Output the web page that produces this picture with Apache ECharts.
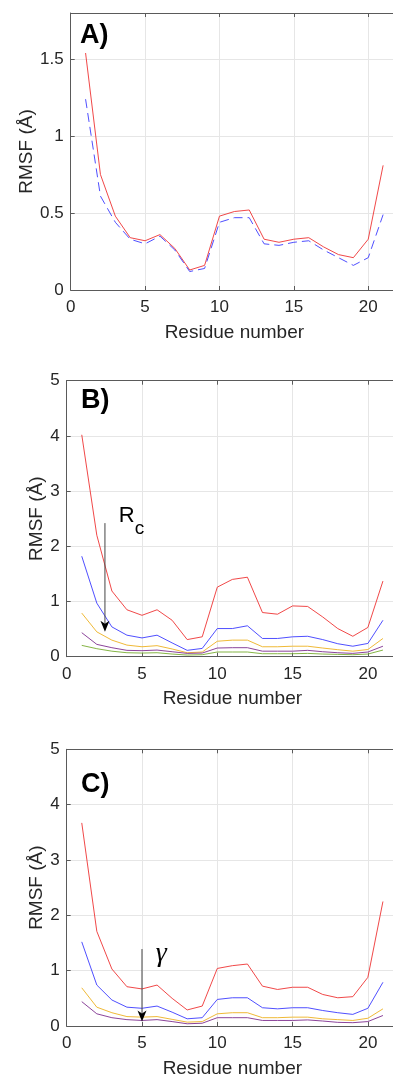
<!DOCTYPE html>
<html>
<head>
<meta charset="utf-8">
<script src="https://cdn.jsdelivr.net/npm/echarts@6/dist/echarts.min.js"></script>
<style>
  html, body { margin: 0; padding: 0; background: #fff; }
  #chart { width: 393px; height: 1077px; }
</style>
</head>
<body>
<div id="chart"></div>
<script>
// Residue index shared by all three panels
const residues = [1, 2, 3, 4, 5, 6, 7, 8, 9, 10, 11, 12, 13, 14, 15, 16, 17, 18, 19, 20, 21];

// Panel A: two RMSF profiles (solid red, dashed blue)
const rmsfA_red  = [1.54, 0.75, 0.48, 0.34, 0.32, 0.36, 0.27, 0.13, 0.16, 0.48, 0.51, 0.52, 0.33, 0.31, 0.33, 0.34, 0.28, 0.23, 0.21, 0.33, 0.81];
const rmsfA_blue = [1.24, 0.61, 0.44, 0.33, 0.30, 0.35, 0.26, 0.12, 0.14, 0.44, 0.47, 0.47, 0.30, 0.29, 0.31, 0.32, 0.26, 0.21, 0.16, 0.21, 0.49];

// Panel B: RMSF for decreasing R_c
const rmsfB_red    = [4.02, 2.20, 1.19, 0.85, 0.75, 0.85, 0.66, 0.31, 0.36, 1.26, 1.40, 1.44, 0.80, 0.77, 0.92, 0.91, 0.72, 0.51, 0.37, 0.53, 1.37];
const rmsfB_blue   = [1.82, 0.97, 0.54, 0.39, 0.34, 0.39, 0.25, 0.115, 0.15, 0.51, 0.51, 0.56, 0.33, 0.33, 0.36, 0.37, 0.31, 0.235, 0.19, 0.24, 0.66];
const rmsfB_yellow = [0.79, 0.45, 0.30, 0.21, 0.18, 0.20, 0.14, 0.072, 0.085, 0.28, 0.30, 0.30, 0.18, 0.18, 0.19, 0.19, 0.157, 0.127, 0.10, 0.13, 0.33];
const rmsfB_purple = [0.435, 0.223, 0.163, 0.115, 0.109, 0.12, 0.09, 0.06, 0.066, 0.157, 0.163, 0.163, 0.10, 0.10, 0.10, 0.115, 0.09, 0.072, 0.06, 0.085, 0.19];
const rmsfB_green  = [0.205, 0.145, 0.10, 0.072, 0.066, 0.072, 0.048, 0.03, 0.036, 0.085, 0.085, 0.085, 0.054, 0.054, 0.054, 0.06, 0.048, 0.042, 0.036, 0.048, 0.12];

// Panel C: RMSF for decreasing gamma
const rmsfC_red    = [3.67, 1.71, 1.03, 0.71, 0.67, 0.74, 0.50, 0.29, 0.36, 1.04, 1.09, 1.12, 0.72, 0.66, 0.70, 0.70, 0.57, 0.51, 0.53, 0.88, 2.25];
const rmsfC_blue   = [1.52, 0.74, 0.47, 0.34, 0.32, 0.36, 0.25, 0.13, 0.15, 0.48, 0.51, 0.51, 0.33, 0.31, 0.33, 0.33, 0.28, 0.24, 0.21, 0.32, 0.79];
const rmsfC_yellow = [0.69, 0.34, 0.24, 0.17, 0.16, 0.17, 0.12, 0.07, 0.08, 0.22, 0.24, 0.24, 0.15, 0.15, 0.16, 0.16, 0.13, 0.115, 0.10, 0.14, 0.31];
const rmsfC_purple = [0.44, 0.22, 0.15, 0.115, 0.10, 0.115, 0.08, 0.04, 0.05, 0.15, 0.15, 0.15, 0.10, 0.10, 0.10, 0.11, 0.09, 0.066, 0.06, 0.08, 0.19];

// Axis ranges and tick spacing
const xRange = [0, 22];
const xStep = 5;
const yRangeA = [0, 1.8];
const yStepA = 0.5;
const yRangeBC = [0, 5];
const yStepBC = 1;

// Arrow annotations: [x, yStart, yTip] in data units
const arrowB = [2.54, 2.42, 0.45];
const arrowC = [5.0, 1.39, 0.08];
// Annotation text anchors [x, y] in data units
const labelRc = [3.45, 2.55];
const labelGamma = [6.28, 1.30];

const FONT = '"Liberation Sans", Arial, Helvetica, sans-serif';
const AXIS_COLOR = '#5a5a5a';
const TEXT_COLOR = '#262626';
const GRID_COLOR = '#e6e6e6';

const COLORS = {
  red: '#ee3333',
  blue: '#3b3bff',
  yellow: '#EDB120',
  purple: '#7E2F8E',
  green: '#77AC30'
};

function pairs(ys) {
  return residues.map((x, i) => [x, ys[i]]);
}

function lineSeries(grid, ys, color, dashed) {
  return {
    type: 'line',
    xAxisIndex: grid * 2,
    yAxisIndex: grid,
    data: pairs(ys),
    symbol: 'none',
    silent: true,
    animation: false,
    lineStyle: { color: color, width: 0.9, type: dashed ? [9, 5] : 'solid' },
    z: 3
  };
}

const grids = [
  { left: 70.7, top: 13, right: -5, height: 277, outerBoundsMode: 'none', containLabel: false },
  { left: 66.7, top: 380.7, right: -5, height: 276, outerBoundsMode: 'none', containLabel: false },
  { left: 66.7, top: 749.3, right: -5, height: 276.7, outerBoundsMode: 'none', containLabel: false }
];

const xAxes = [];
const yAxes = [];
grids.forEach((g, i) => {
  xAxes.push({
    type: 'value', gridIndex: i, min: xRange[0], max: xRange[1], interval: xStep,
    name: 'Residue number', nameLocation: 'middle', nameGap: 33, nameMoveOverlap: false,
    nameTextStyle: { fontFamily: FONT, fontSize: 19, color: TEXT_COLOR },
    axisLine: { show: true, onZero: false, lineStyle: { color: AXIS_COLOR, width: 1 } },
    axisTick: { show: true, inside: true, length: 4, lineStyle: { color: AXIS_COLOR } },
    axisLabel: { fontFamily: FONT, fontSize: 17, color: TEXT_COLOR, margin: 9, showMaxLabel: false },
    splitLine: { show: true, lineStyle: { color: GRID_COLOR, width: 1 } }
  });
  // Top edge of the box
  xAxes.push({
    type: 'value', gridIndex: i, position: 'top', min: xRange[0], max: xRange[1], interval: xStep,
    axisLine: { show: true, onZero: false, lineStyle: { color: AXIS_COLOR, width: 1 } },
    axisTick: { show: true, inside: true, length: 4, lineStyle: { color: AXIS_COLOR } },
    axisLabel: { show: false },
    splitLine: { show: false }
  });
  const isA = i === 0;
  yAxes.push({
    type: 'value', gridIndex: i,
    min: isA ? yRangeA[0] : yRangeBC[0],
    max: isA ? yRangeA[1] : yRangeBC[1],
    interval: isA ? yStepA : yStepBC,
    name: 'RMSF (Å)', nameLocation: 'middle', nameGap: isA ? 34 : 20, nameMoveOverlap: false,
    nameTextStyle: { fontFamily: FONT, fontSize: 19, color: TEXT_COLOR },
    axisLine: { show: true, onZero: false, lineStyle: { color: AXIS_COLOR, width: 1 } },
    axisTick: { show: true, inside: true, length: 4, lineStyle: { color: AXIS_COLOR } },
    axisLabel: { fontFamily: FONT, fontSize: 17, color: TEXT_COLOR, margin: 7, showMaxLabel: !isA },
    splitLine: { show: true, lineStyle: { color: GRID_COLOR, width: 1 } }
  });
});

const series = [
  lineSeries(0, rmsfA_red, COLORS.red, false),
  lineSeries(0, rmsfA_blue, COLORS.blue, true),

  lineSeries(1, rmsfB_red, COLORS.red, false),
  lineSeries(1, rmsfB_blue, COLORS.blue, false),
  lineSeries(1, rmsfB_yellow, COLORS.yellow, false),
  lineSeries(1, rmsfB_purple, COLORS.purple, false),
  lineSeries(1, rmsfB_green, COLORS.green, false),

  lineSeries(2, rmsfC_red, COLORS.red, false),
  lineSeries(2, rmsfC_blue, COLORS.blue, false),
  lineSeries(2, rmsfC_yellow, COLORS.yellow, false),
  lineSeries(2, rmsfC_purple, COLORS.purple, false)
];

const chart = echarts.init(document.getElementById('chart'), null, { renderer: 'canvas' });
chart.setOption({
  animation: false,
  backgroundColor: '#ffffff',
  grid: grids,
  xAxis: xAxes,
  yAxis: yAxes,
  series: series
});

// Arrow (shaft + filled head) in pixel space from data coordinates
function arrowGraphics(gridIndex, arrow) {
  const top = chart.convertToPixel({ gridIndex: gridIndex }, [arrow[0], arrow[1]]);
  const tip = chart.convertToPixel({ gridIndex: gridIndex }, [arrow[0], arrow[2]]);
  const x = top[0];
  const headLen = 11, headHalf = 4.5, notch = 8;
  return [
    {
      type: 'line', silent: true, z: 10,
      shape: { x1: x, y1: top[1], x2: x, y2: tip[1] - notch },
      style: { stroke: '#444', lineWidth: 1 }
    },
    {
      type: 'polygon', silent: true, z: 11,
      shape: { points: [[x, tip[1]], [x - headHalf, tip[1] - headLen], [x, tip[1] - notch], [x + headHalf, tip[1] - headLen]] },
      style: { fill: '#000' }
    }
  ];
}

const rcPos = chart.convertToPixel({ gridIndex: 1 }, labelRc);
const gPos = chart.convertToPixel({ gridIndex: 2 }, labelGamma);

const panelLabelStyle = { font: 'bold 27px ' + FONT, fill: '#000' };

chart.setOption({
  graphic: [
    { type: 'text', left: 80, top: 22, z: 20, style: Object.assign({ text: 'A)' }, panelLabelStyle) },
    { type: 'text', left: 81, top: 387, z: 20, style: Object.assign({ text: 'B)' }, panelLabelStyle) },
    { type: 'text', left: 81, top: 771, z: 20, style: Object.assign({ text: 'C)' }, panelLabelStyle) },
    ...arrowGraphics(1, arrowB),
    ...arrowGraphics(2, arrowC),
    {
      type: 'text', x: rcPos[0], y: rcPos[1], z: 20,
      style: { text: 'R', font: '22px ' + FONT, fill: '#000', verticalAlign: 'middle', align: 'left' }
    },
    {
      type: 'text', x: rcPos[0] + 16, y: rcPos[1] + 13, z: 20,
      style: { text: 'c', font: '19px ' + FONT, fill: '#000', verticalAlign: 'middle', align: 'left' }
    },
    {
      type: 'text', x: gPos[0], y: gPos[1], z: 20,
      style: { text: 'γ', font: 'italic 28px "Liberation Serif", "DejaVu Serif", serif', fill: '#000', verticalAlign: 'middle', align: 'center' }
    }
  ]
});
</script>
</body>
</html>
